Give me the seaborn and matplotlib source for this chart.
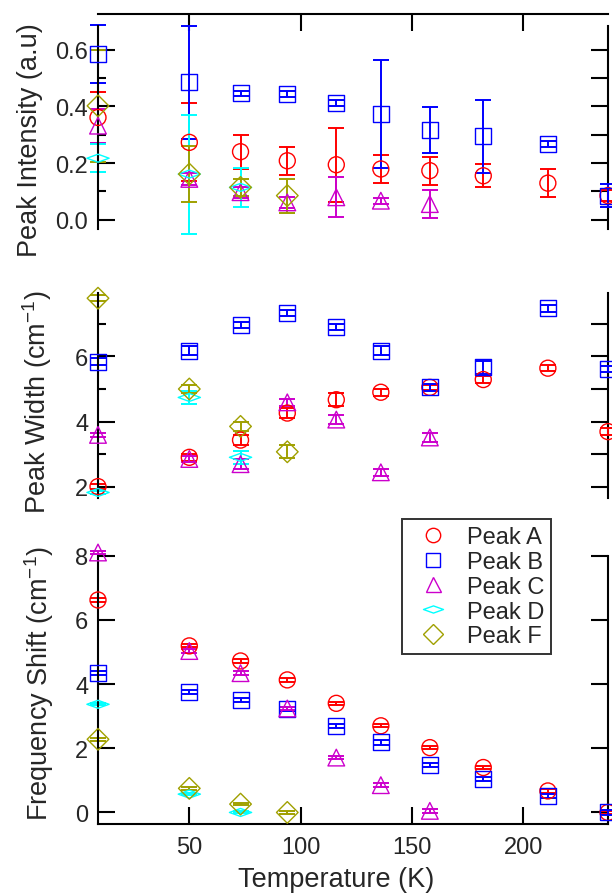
import matplotlib
matplotlib.use("Agg")
import matplotlib.pyplot as plt
import numpy as np
import pandas as pd
import seaborn as sns
from matplotlib.lines import Line2D
from matplotlib.path import Path

# ----------------
# Data
# ----------------
temperature = [9, 50, 73, 94, 116, 136, 158, 182, 211, 238]
peaks = ["Peak A", "Peak B", "Peak C", "Peak D", "Peak F"]

intensity = {
    "Peak A": [0.361, 0.273, 0.240, 0.208, 0.194, 0.179, 0.173, 0.155, 0.129, 0.085],
    "Peak B": [0.585, 0.485, 0.446, 0.444, 0.411, 0.373, 0.317, 0.294, 0.267, 0.085],
    "Peak C": [0.332, 0.144, 0.097, 0.061, 0.079, 0.067, 0.055],
    "Peak D": [0.217, 0.161, 0.114],
    "Peak F": [0.402, 0.161, 0.114, 0.085],
}
intensity_err = {
    "Peak A": [0.09, 0.138, 0.06, 0.05, 0.13, 0.05, 0.05, 0.04, 0.05, 0.02],
    "Peak B": [0.104, 0.20, 0.01, 0.01, 0.01, 0.19, 0.08, 0.13, 0.01, 0.04],
    "Peak C": [0.06, 0.02, 0.02, 0.02, 0.07, 0.01, 0.05],
    "Peak D": [0.05, 0.21, 0.07],
    "Peak F": [0.197, 0.10, 0.03, 0.06],
}

width = {
    "Peak A": [2.0, 2.90, 3.43, 4.26, 4.67, 4.90, 5.05, 5.29, 5.64, 3.69],
    "Peak B": [5.84, 6.18, 6.97, 7.33, 6.90, 6.18, 5.05, 5.67, 7.48, 5.62],
    "Peak C": [3.59, 2.85, 2.69, 4.59, 4.06, 2.44, 3.51],
    "Peak D": [1.82, 4.74, 2.90],
    "Peak F": [7.79, 5.0, 3.85, 3.07],
}
width_err = {
    "Peak A": [0.08, 0.1, 0.15, 0.15, 0.2, 0.1, 0.08, 0.1, 0.1, 0.1],
    "Peak B": [0.1, 0.15, 0.1, 0.1, 0.1, 0.15, 0.1, 0.2, 0.1, 0.1],
    "Peak C": [0.05, 0.1, 0.15, 0.1, 0.15, 0.1, 0.15],
    "Peak D": [0.05, 0.2, 0.2],
    "Peak F": [0.1, 0.12, 0.15, 0.2],
}

shift = {
    "Peak A": [6.62, 5.19, 4.72, 4.13, 3.40, 2.70, 2.02, 1.40, 0.67, 0.0],
    "Peak B": [4.34, 3.76, 3.51, 3.22, 2.70, 2.18, 1.48, 1.04, 0.52, 0.0],
    "Peak C": [8.1, 5.03, 4.34, 3.24, 1.71, 0.85, 0.05],
    "Peak D": [3.37, 0.57, 0.0],
    "Peak F": [2.28, 0.75, 0.26, 0.0],
}
shift_err = {
    "Peak A": [0.05] * 10,
    "Peak B": [0.07] * 10,
    "Peak C": [0.06] * 7,
    "Peak D": [0.03] * 3,
    "Peak F": [0.04] * 4,
}

colors = {"Peak A": "#ff0000", "Peak B": "#0000ff", "Peak C": "#cc00cc",
          "Peak D": "#00ffff", "Peak F": "#a0a000"}
flat_diamond = Path([(-1, 0), (0, 0.36), (1, 0), (0, -0.36), (-1, 0)],
                    [Path.MOVETO, Path.LINETO, Path.LINETO, Path.LINETO, Path.CLOSEPOLY])
markers = {"Peak A": "o", "Peak B": "s", "Peak C": "^",
           "Peak D": flat_diamond, "Peak F": "D"}
msize = {"Peak A": 11.5, "Peak B": 11.5, "Peak C": 12, "Peak D": 16, "Peak F": 11}


def to_long(values, errors):
    rows = []
    for p in peaks:
        for t, v, e in zip(temperature, values[p], errors[p]):
            rows.append({"T": t, "value": v, "err": e, "peak": p})
    return pd.DataFrame(rows)


sns.set_theme(style="ticks")
plt.rcParams["font.family"] = ["Liberation Sans", "DejaVu Sans"]
plt.rcParams["mathtext.default"] = "regular"

fig = plt.figure(figsize=(6.12, 8.95), dpi=100)
L, W = 98 / 612, 510 / 612
ax1 = fig.add_axes([L, 1 - 230 / 895, W, 203 / 895])
ax2 = fig.add_axes([L, 1 - 499 / 895, W, 205 / 895])
ax3 = fig.add_axes([L, 1 - 825 / 895, W, 268.3 / 895])

panels = [
    (ax1, to_long(intensity, intensity_err), (-0.033, 0.684), "Peak Intensity (a.u)",
     [0.0, 0.2, 0.4, 0.6], [0.1, 0.3, 0.5], np.round(np.arange(0, 0.61, 0.1), 1)),
    (ax2, to_long(width, width_err), (1.65, 7.95), r"Peak Width (cm$^{-1}$)",
     [2, 4, 6], [3, 5, 7], [2, 3, 4, 5, 6, 7]),
    (ax3, to_long(shift, shift_err), (-0.36, 8.0), r"Frequency Shift (cm$^{-1}$)",
     [0, 2, 4, 6, 8], [], [0, 2, 4, 6, 8]),
]

spine_lw = 1.5
for ax, df, ylim, ylabel, major, minor, right_ticks in panels:
    for p in peaks:
        sub = df[df["peak"] == p]
        ax.errorbar(sub["T"], sub["value"], yerr=sub["err"], fmt="none",
                    ecolor=colors[p], elinewidth=1.4, capsize=6, capthick=1.4,
                    clip_on=False, zorder=2)
    sns.scatterplot(data=df, x="T", y="value", hue="peak", style="peak",
                    size="peak", markers=markers, palette=colors,
                    sizes={p: msize[p] ** 2 for p in peaks},
                    legend=False, ax=ax, zorder=3, clip_on=False)
    coll = ax.collections[-1]
    coll.set_edgecolors(coll.get_facecolors())
    coll.set_facecolors("none")
    coll.set_linewidth(1.0)

    ax.set_xlim(9, 238)
    ax.set_ylim(*ylim)
    ax.set_yticks(major)
    ax.set_yticks(minor, minor=True)
    ax.set_ylabel(ylabel, fontsize=19.5)
    ax.set_xlabel("")
    ax.tick_params(axis="y", which="major", direction="in", length=12,
                   width=spine_lw, labelsize=17, pad=7, color="black")
    ax.tick_params(axis="y", which="minor", direction="in", length=6,
                   width=spine_lw, color="black")
    for s in ax.spines.values():
        s.set_linewidth(spine_lw)
        s.set_color("black")
    ax.spines["right"].set_visible(False)
    sec = ax.secondary_yaxis("right")
    sec.set_yticks(right_ticks)
    sec.tick_params(direction="in", length=12, width=spine_lw,
                    labelright=False, color="black")
    sec.spines["right"].set_linewidth(spine_lw)
    sec.spines["right"].set_color("black")

# ----------------
# Axis styling per panel
# ----------------
ax1.spines["bottom"].set_visible(False)
ax1.spines["top"].set_position(("outward", 9))
ax1.xaxis.set_ticks_position("top")
ax1.set_xticks([50, 100, 150, 200])
ax1.tick_params(axis="x", direction="in", length=12, width=spine_lw,
                labeltop=False, labelbottom=False, color="black")

ax2.spines["bottom"].set_visible(False)
ax2.spines["top"].set_visible(False)
ax2.set_xticks([])

ax3.spines["top"].set_visible(False)
ax3.set_xticks([50, 100, 150, 200])
ax3.tick_params(axis="x", direction="in", length=12, width=spine_lw,
                labelsize=17, pad=9, color="black")
ax3.set_xlabel("Temperature (K)", fontsize=19.5)
ax3.xaxis.set_label_coords(0.466, -0.157)

ax1.yaxis.set_label_coords(-0.108, 0.443)
ax2.yaxis.set_label_coords(-0.086, 0.473)
ax3.yaxis.set_label_coords(-0.082, 0.526)

handles = [Line2D([], [], ls="none", marker=markers[p], markersize=msize[p] * 0.9,
                  markerfacecolor="none", markeredgecolor=colors[p],
                  markeredgewidth=1.0, label=p) for p in peaks]
leg = ax3.legend(handles=handles, loc="upper left", bbox_to_anchor=(0.596, 1.137),
                 fontsize=17, frameon=True, fancybox=False, borderpad=0.3,
                 handlelength=2.0, handletextpad=0.45, labelspacing=0.12,
                 borderaxespad=0)
leg.get_frame().set_edgecolor("black")
leg.get_frame().set_linewidth(1.4)

fig.savefig("out.png", dpi=100, facecolor="white")
